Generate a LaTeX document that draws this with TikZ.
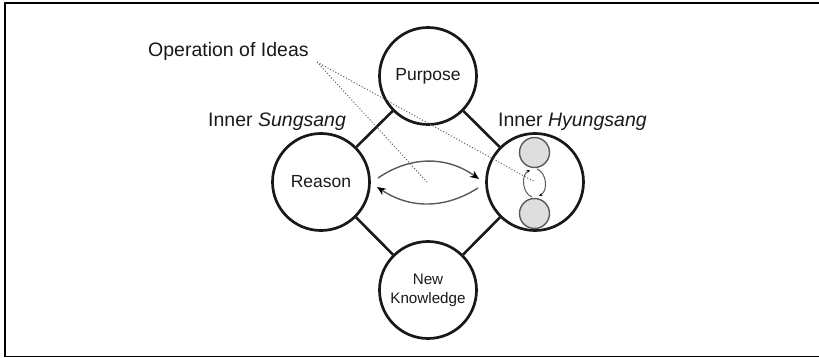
\documentclass[tikz,border=0pt]{standalone}
\usepackage{fontspec}
\setmainfont{Liberation Sans}
\usetikzlibrary{arrows.meta}
\begin{document}
\begin{tikzpicture}[x=1pt,y=1pt,
  bigcircle/.style={circle,draw=black!90,line width=2.7pt,minimum size=97pt,inner sep=0pt,
    font=\fontsize{17.5}{20}\selectfont,text=black!90},
  smallball/.style={circle,draw=black!65,fill=black!13,line width=1.4pt,minimum size=30pt,inner sep=0pt},
  link/.style={line width=2.6pt,draw=black!90},
  label/.style={inner sep=0pt,font=\fontsize{19.5}{22}\selectfont,text=black!90},
  flow/.style={line width=1.4pt,draw=black!65,-{Stealth[length=9pt,width=7.5pt,color=black]}},
  tinyflow/.style={line width=1pt,draw=black!65,-{Stealth[length=3.5pt,width=3pt,color=black]}},
  pointer/.style={line width=1pt,draw=black!65,dotted}]
\useasboundingbox (0,0) rectangle (819,-358);
% frame
\draw[line width=2pt] (819,-3) -- (5,-3) -- (5,-356.5);
\draw[line width=1.2pt] (5,-356.5) -- (819,-356.5);

% main circles
\node[bigcircle] (purpose) at (428,-76) {Purpose};
\node[bigcircle] (reason) at (321,-182) {Reason};
\node[bigcircle] (hyung) at (535,-182) {};
\node[bigcircle,align=center,font=\fontsize{15.2}{19}\selectfont] (know) at (428,-290) {New\\Knowledge};

% connectors
\draw[link] (purpose) -- (reason);
\draw[link] (purpose) -- (hyung);
\draw[link] (reason) -- (know);
\draw[link] (hyung) -- (know);

% small balls inside Inner Hyungsang
\node[smallball] (ballA) at (534.5,-152.5) {};
\node[smallball] (ballB) at (534.5,-213.5) {};
\coordinate (la) at (532,-197);
\coordinate (lb) at (530,-170);
\coordinate (ra) at (537,-169);
\coordinate (rb) at (539,-196);
\draw[tinyflow] (la) to[bend left=65] (lb);
\draw[tinyflow] (ra) to[bend left=65] (rb);

% big arrows between Reason and Hyungsang
\coordinate (t1) at (378,-178);
\coordinate (t2) at (479,-179);
\coordinate (b1) at (478,-188);
\coordinate (b2) at (377,-187);
\coordinate (mid) at (427,-182);
\draw[flow] (t1) to[bend left=35] (t2);
\draw[flow] (b1) to[bend left=33] (b2);

% labels
\node[label,anchor=base west] (ops) at (148,-57) {Operation of Ideas};
\node[label,anchor=base west] (sung) at (208,-127) {Inner \textit{Sungsang}};
\node[label,anchor=base west] (hyl) at (498,-127) {Inner \textit{Hyungsang}};

% dotted pointers
\coordinate (src) at (317,-62);
\draw[pointer] (src) -- (mid);
\draw[pointer] (src) -- (hyung.center);
\end{tikzpicture}
\end{document}
